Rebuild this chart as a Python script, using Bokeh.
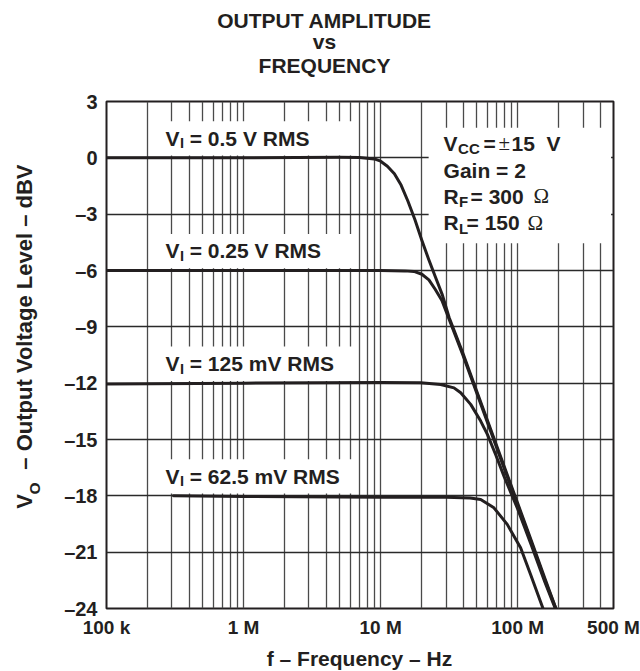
import math
from bokeh.plotting import figure
from bokeh.models import FixedTicker, Label, Range1d
from bokeh.embed import file_html
from bokeh.resources import INLINE

# ---------------- data ----------------
f_05 = [1e5, 1e6, 5e6, 7e6, 9e6, 10e6, 11.2e6, 12.6e6, 14.1e6, 15.8e6, 17.8e6, 20e6,
        22.4e6, 25.1e6, 28.2e6, 31.6e6, 39.8e6, 50.1e6, 63.1e6, 79.4e6, 100e6, 126e6, 158e6, 190e6]
db_05 = [0.0, 0.0, 0.03, 0.02, -0.06, -0.18, -0.45, -0.85, -1.45, -2.3, -3.3, -4.4,
         -5.4, -6.35, -7.3, -8.5, -10.4, -12.4, -14.4, -16.4, -18.4, -20.4, -22.4, -24.0]

f_025 = [1e5, 1e6, 10e6, 15e6, 17.5e6, 20e6, 22.5e6, 25e6, 28e6, 31.6e6, 39.8e6, 50.1e6,
         63.1e6, 79.4e6, 100e6, 126e6, 158e6, 190e6]
db_025 = [-6.0, -6.0, -6.0, -6.02, -6.05, -6.2, -6.5, -7.0, -7.6, -8.6, -10.5, -12.5,
          -14.5, -16.5, -18.5, -20.5, -22.5, -24.0]

f_125 = [1e5, 1e6, 10e6, 19.6e6, 27.4e6, 34.3e6, 38.4e6, 45.4e6, 53.7e6, 60.1e6, 69e6,
         79.4e6, 100e6, 126e6, 158e6, 188e6]
db_125 = [-12.05, -12.0, -11.97, -11.98, -12.07, -12.25, -12.51, -13.13, -14.02, -14.73, -15.8,
          -16.95, -18.7, -20.65, -22.6, -24.0]

f_625 = [3.08e5, 1e6, 10e6, 30e6, 45e6, 53.7e6, 67.1e6, 83.9e6, 105e6, 124e6, 153e6]
db_625 = [-18.0, -18.03, -18.08, -18.08, -18.12, -18.19, -18.64, -19.52, -20.77, -22.18, -24.0]

series_levels = [0, -6, -12, -18]
series_names = ["0.5 V RMS", "0.25 V RMS", "125 mV RMS", "62.5 mV RMS"]

x_ticks = [1e5, 1e6, 1e7, 1e8, 5e8]
x_tick_labels = ["100 k", "1 M", "10 M", "100 M", "500 M"]
y_ticks = [3, 0, -3, -6, -9, -12, -15, -18, -21, -24]
y_tick_labels = ["3", "0", "\u20133", "\u20136", "\u20139", "\u201312", "\u201315", "\u201318", "\u201321", "\u201324"]

title_lines = ["OUTPUT AMPLITUDE", "vs", "FREQUENCY"]
x_title = "f \u2013 Frequency \u2013 Hz"
NB = "\u00a0"
y_title = NB * 6 + "V" + NB * 4 + "\u2013 Output Voltage Level \u2013 dBV"

# ---------------- figure ----------------
INK = "#231f20"
FONT = "Liberation Sans"

p = figure(width=640, height=671, x_axis_type="log",
           x_range=Range1d(1e5, 5e8), y_range=Range1d(-24, 3),
           output_backend="svg", toolbar_location=None,
           min_border_left=106, min_border_right=27, min_border_top=101, min_border_bottom=63)
p.background_fill_color = "white"
p.border_fill_color = "white"
p.outline_line_color = INK
p.outline_line_width = 2

# grid
grid_x = [m * 10 ** e for e in (5, 6, 7) for m in range(2, 11)] + [2e8, 3e8, 4e8]
p.xgrid.ticker = FixedTicker(ticks=grid_x)
p.xgrid.grid_line_color = "#4a4a4a"
p.xgrid.grid_line_width = 1.3
p.ygrid.ticker = FixedTicker(ticks=y_ticks)
p.ygrid.grid_line_color = "#2a2a2a"
p.ygrid.grid_line_width = 1.3

# axes
for ax in (p.xaxis, p.yaxis):
    ax.axis_line_color = None
    ax.major_tick_line_color = None
    ax.minor_tick_line_color = None
    ax.major_tick_out = 0
    ax.major_tick_in = 0
    ax.minor_tick_out = 0
    ax.major_label_text_font = FONT
    ax.major_label_text_font_style = "bold"
    ax.major_label_text_color = INK
p.xaxis.major_label_text_font_size = "19px"
p.yaxis.major_label_text_font_size = "20px"
p.xaxis.ticker = FixedTicker(ticks=x_ticks)
p.xaxis.major_label_overrides = {t: s for t, s in zip(x_ticks, x_tick_labels)}
p.xaxis.major_label_standoff = 8
p.yaxis.ticker = FixedTicker(ticks=y_ticks)
p.yaxis.major_label_overrides = {t: s for t, s in zip(y_ticks, y_tick_labels)}
p.yaxis.major_label_standoff = 9
p.yaxis.axis_label = y_title
p.yaxis.axis_label_text_font = FONT
p.yaxis.axis_label_text_font_style = "bold"
p.yaxis.axis_label_text_font_size = "22px"
p.yaxis.axis_label_text_color = INK
p.yaxis.axis_label_standoff = 24

# white boxes behind the labels (hide grid lines there)
mask_left, mask_right = 2.1e5, 6.5e6
p.quad(left=[mask_left] * 4, right=[mask_right] * 4,
       bottom=[lv + 0.12 for lv in series_levels], top=[lv + 1.95 for lv in series_levels],
       fill_color="white", line_color=None)
p.quad(left=[22.4e6], right=[4.8e8], bottom=[-4.55], top=[1.6],
       fill_color="white", line_color=None)

# curves
for fx, dy in ((f_05, db_05), (f_025, db_025), (f_125, db_125), (f_625, db_625)):
    p.line(fx, dy, line_width=3, line_color=INK, line_join="round", line_cap="round")


def lab(x, y, text, size=21, style="bold", font=FONT, units="data", x_off=0,
        angle=0, align="left", baseline="alphabetic", place=None):
    lb = Label(x=x, y=y, x_units=units, y_units=units, text=text,
               x_offset=x_off, angle=angle,
               text_font=font, text_font_size=f"{size}px", text_font_style=style,
               text_color=INK, text_align=align, text_baseline=baseline)
    if place is None:
        p.add_layout(lb)
    else:
        p.add_layout(lb, place)


# curve labels
lab_x = 2.7e5
for lv, name in zip(series_levels, series_names):
    lab(lab_x, lv + 1.05, "V")
    lab(lab_x, lv + 1.05 - 0.27, "I", size=14.5, x_off=14.3)
    lab(lab_x, lv + 1.05, NB + "= " + name, x_off=18.3)

# conditions block
cx = 28.8e6
b1, b2, b3, b4 = 0.787, -0.65, -2.035, -3.47
lab(cx, b1, "V")
lab(cx, b1 - 0.27, "CC", size=15, x_off=14.5)
lab(cx, b1, "=", x_off=40)
lab(cx, b1, "\u00b1", style="normal", font="Liberation Serif", x_off=55)
lab(cx, b1, "15" + NB + NB + "V", x_off=68)
lab(cx, b2, "Gain = 2")
lab(cx, b3, "R")
lab(cx, b3 - 0.27, "F", size=15, x_off=15.5)
lab(cx, b3, "= 300", x_off=27)
lab(cx, b3, "\u03a9", style="normal", font="Liberation Serif", x_off=90)
lab(cx, b4, "R")
lab(cx, b4 - 0.27, "L", size=15, x_off=15.5)
lab(cx, b4, "= 150", x_off=23)
lab(cx, b4, "\u03a9", style="normal", font="Liberation Serif", x_off=84)

# titles: labels in the panel above the frame (first added is nearest the frame)
lab(218, 36.5, title_lines[2], units="screen", align="center", place="above")
lab(218, 37, title_lines[1], units="screen", align="center", place="above")
lab(218, 35.5, title_lines[0], units="screen", align="center", place="above")

# x axis title below
lab(253, 5, x_title, units="screen", align="center", place="below")

# subscript O of the y axis title (placed from the right-hand panel)
lab(-579, 114, "O", size=15.5, units="screen", angle=math.pi / 2, place="right")

open("out.html", "w").write(file_html(p, INLINE))
